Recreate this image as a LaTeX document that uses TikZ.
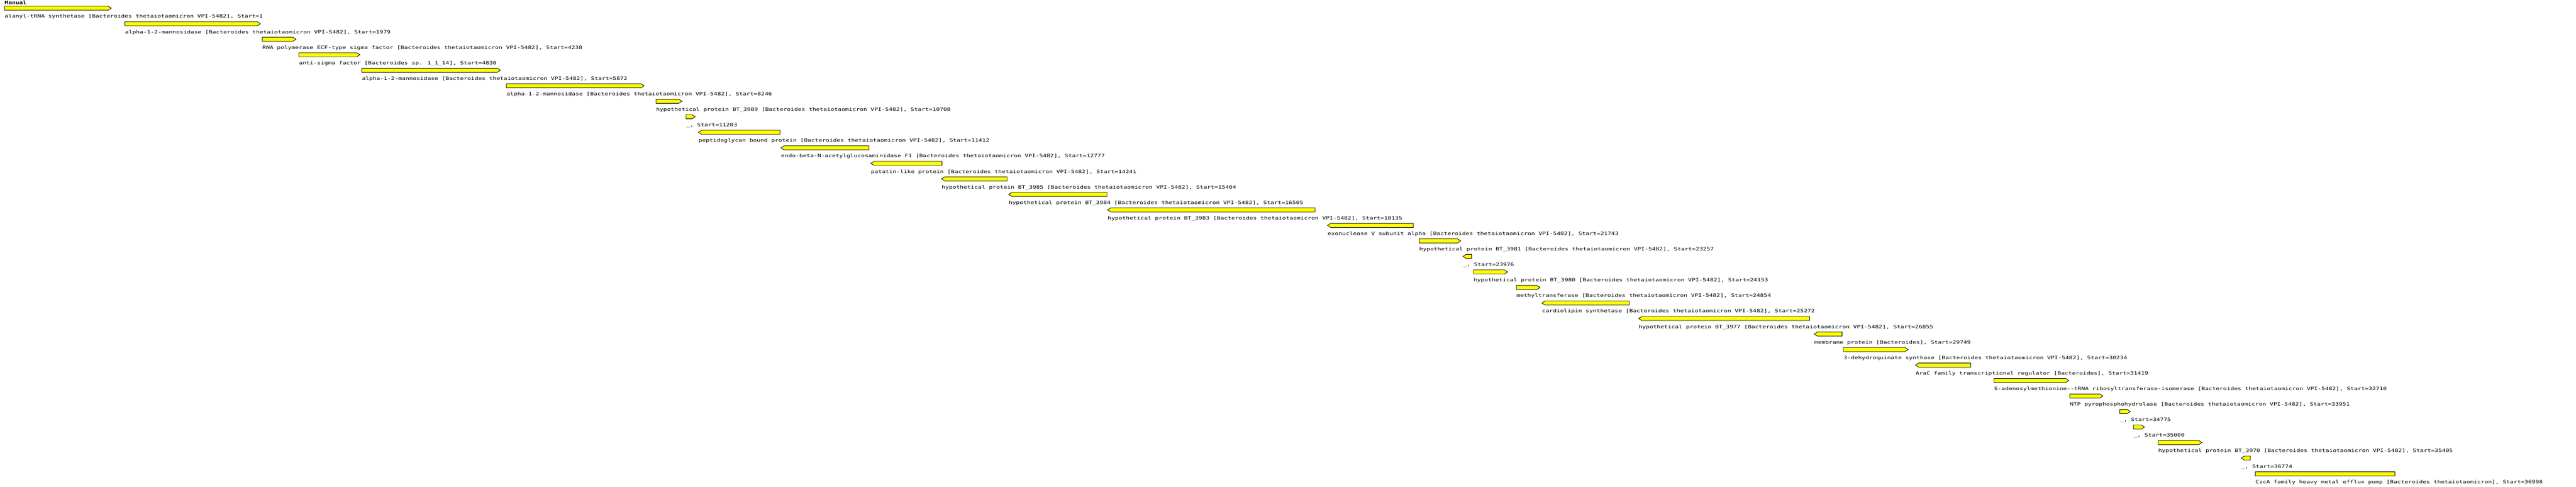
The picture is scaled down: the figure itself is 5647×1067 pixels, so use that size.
\documentclass[tikz,border=0pt]{standalone}
\usepackage{fontspec}
\newfontfamily\gfont{DejaVu Sans Mono}
\definecolor{gy}{HTML}{FFFF00}
\tikzset{
  gene/.style={draw=black, fill=gy, line width=0.5pt, line join=miter},
  lbl/.style={anchor=base west, inner sep=0pt, font=\gfont\fontsize{6.62pt}{7pt}\selectfont},
  ttl/.style={anchor=base west, inner sep=0pt, font=\gfont\bfseries\fontsize{6.62pt}{7pt}\selectfont}
}
\newcommand\sq[1]{\scalebox{1}[0.76]{#1}}
\newcommand\BT{[Bacteroides thetaiotaomicron VPI-5482]}
\newcommand\geom[1]{\pgfmathsetmacro\gt{13.5+(#1-1)*34}\pgfmathsetmacro\gb{\gt+9}\pgfmathsetmacro\gm{\gt+4.5}\pgfmathsetmacro\gyy{\gt+26}}
% right-pointing gene
\newcommand\gr[4]{\geom{#1}%
  \draw[gene] (#2,\gt) -- ({#3-7},\gt) -- (#3,\gm) -- ({#3-7},\gb) -- (#2,\gb) -- cycle;
  \node[lbl] (t#1) at (#2,\gyy) {\sq{#4}};}
% left-pointing gene
\newcommand\gl[4]{\geom{#1}%
  \draw[gene] (#3,\gt) -- ({#2+7},\gt) -- (#2,\gm) -- ({#2+7},\gb) -- (#3,\gb) -- cycle;
  \node[lbl] (t#1) at (#2,\gyy) {\sq{#4}};}
% no direction
\newcommand\gn[4]{\geom{#1}%
  \draw[gene] (#2,\gt) rectangle (#3,\gb);
  \node[lbl] (t#1) at (#2,\gyy) {\sq{#4}};}
\begin{document}
\begin{tikzpicture}[x=0.5pt,y=-0.5pt]
\useasboundingbox (0,0) rectangle (5647,1067);
\node[ttl] (manual) at (10,9.5) {\sq{Manual}};
\gr{1}{10}{244}{alanyl-tRNA synthetase \BT, Start=1}
\gr{2}{274}{571}{alpha-1-2-mannosidase \BT, Start=1979}
\gr{3}{575}{649}{RNA polymerase ECF-type sigma factor \BT, Start=4238}
\gr{4}{655}{789}{anti-sigma factor [Bacteroides sp. 1\_1\_14], Start=4830}
\gr{5}{793}{1097}{alpha-1-2-mannosidase \BT, Start=5872}
\gr{6}{1110}{1412}{alpha-1-2-mannosidase \BT, Start=8246}
\gr{7}{1438}{1495}{hypothetical protein BT\_3989 \BT, Start=10708}
\gr{8}{1504}{1524}{\_, Start=11203}
\gl{9}{1531}{1710}{peptidoglycan bound protein \BT, Start=11412}
\gl{10}{1712}{1905}{endo-beta-N-acetylglucosaminidase F1 \BT, Start=12777}
\gl{11}{1909}{2065}{patatin-like protein \BT, Start=14241}
\gl{12}{2064}{2208}{hypothetical protein BT\_3985 \BT, Start=15404}
\gl{13}{2211}{2427}{hypothetical protein BT\_3984 \BT, Start=16505}
\gl{14}{2428}{2883}{hypothetical protein BT\_3983 \BT, Start=18135}
\gl{15}{2910}{3098}{exonuclease V subunit alpha \BT, Start=21743}
\gr{16}{3111}{3202}{hypothetical protein BT\_3981 \BT, Start=23257}
\gl{17}{3207}{3226}{\_, Start=23976}
\gr{18}{3230}{3305}{hypothetical protein BT\_3980 \BT, Start=24153}
\gr{19}{3324}{3376}{methyltransferase \BT, Start=24854}
\gl{20}{3380}{3572}{cardiolipin synthetase \BT, Start=25272}
\gl{21}{3592}{3967}{hypothetical protein BT\_3977 \BT, Start=26855}
\gl{22}{3977}{4038}{membrane protein [Bacteroides], Start=29749}
\gr{23}{4041}{4183}{3-dehydroquinate synthase \BT, Start=30234}
\gl{24}{4199}{4320}{AraC family transcriptional regulator [Bacteroides], Start=31419}
\gr{25}{4371}{4535}{S-adenosylmethionine-{}-tRNA ribosyltransferase-isomerase \BT, Start=32710}
\gr{26}{4537}{4610}{NTP pyrophosphohydrolase \BT, Start=33951}
\gr{27}{4647}{4670}{\_, Start=34775}
\gr{28}{4677}{4701}{\_, Start=35000}
\gr{29}{4731}{4827}{hypothetical protein BT\_3970 \BT, Start=35405}
\gl{30}{4913}{4933}{\_, Start=36774}
\gn{31}{4944}{5250}{CzcA family heavy metal efflux pump [Bacteroides thetaiotaomicron], Start=36998}
\end{tikzpicture}
\end{document}
